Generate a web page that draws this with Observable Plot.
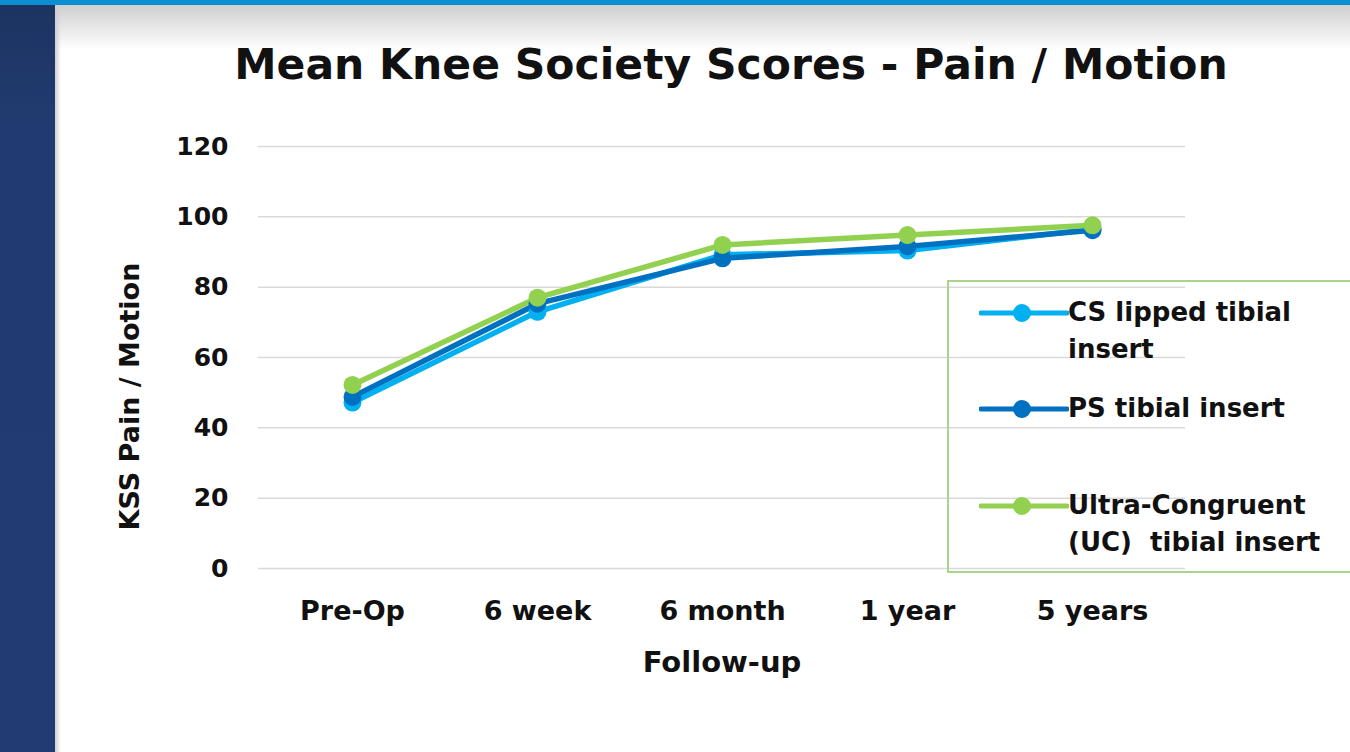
<!DOCTYPE html>
<html>
<head>
<meta charset="utf-8">
<script src="https://cdn.jsdelivr.net/npm/d3@7"></script>
<script src="https://cdn.jsdelivr.net/npm/@observablehq/plot@0.6"></script>
<style>
  html, body { margin: 0; padding: 0; }
  body { width: 1350px; height: 752px; position: relative; overflow: hidden; background: #fff; font-family: "DejaVu Sans", sans-serif; }
  #topbar { position: absolute; left: 0; top: 0; width: 1350px; height: 5px; background: #0a8fd2; }
  #topshade { position: absolute; left: 55px; top: 5px; width: 1295px; height: 45px; background: linear-gradient(#cfcfcf, #ffffff); }
  #leftband { position: absolute; left: 0; top: 5px; width: 55px; height: 747px; background: linear-gradient(#1d3461, #213b70 15%, #223c72); }
  #leftshade { position: absolute; left: 55px; top: 5px; width: 6px; height: 747px; background: linear-gradient(90deg, #cfcfcf, rgba(255,255,255,0)); }
  #title { position: absolute; left: 0; width: 1462px; top: 40px; text-align: center; font-weight: 700; font-size: 42.5px; line-height: 50px; color: #111; white-space: nowrap; }
  #chart { position: absolute; left: 0; top: 0; }
  #legend { position: absolute; left: 947px; top: 280px; width: 420px; height: 293px; border: 2px solid #a9d58a; border-right: none; box-sizing: border-box; }
  .item { position: absolute; left: 30px; }
  .item svg { position: absolute; left: 0; top: 0; }
  .item .lab { position: absolute; left: 89px; top: -19px; font-weight: 700; font-size: 26px; line-height: 37px; color: #111; white-space: nowrap; }
</style>
</head>
<body>
<div id="topbar"></div>
<div id="leftband"></div>
<div id="topshade"></div>
<div id="leftshade"></div>
<div id="chart"></div>
<div id="title">Mean Knee Society Scores - Pain / Motion</div>
<div id="legend"></div>
<script>
const categories = ["Pre-Op", "6 week", "6 month", "1 year", "5 years"];
const seriesNames = ["CS lipped tibial insert", "PS tibial insert", "Ultra-Congruent (UC)  tibial insert"];
const csValues = [47.2, 73.0, 89.2, 90.4, 96.5];
const psValues = [48.8, 75.3, 88.2, 91.6, 96.2];
const ucValues = [52.2, 77.0, 92.0, 94.8, 97.6];
const yTicks = [0, 20, 40, 60, 80, 100, 120];
const colors = ["#00b0f0", "#0070c0", "#92d050"];
const legendLines = [["CS lipped tibial", "insert"], ["PS tibial insert"], ["Ultra-Congruent", "(UC)&nbsp; tibial insert"]];

const allValues = [csValues, psValues, ucValues];
const data = [];
allValues.forEach((vals, s) => vals.forEach((v, i) => data.push({series: seriesNames[s], cat: categories[i], value: v})));

const chart = Plot.plot({
  width: 1350,
  height: 752,
  marginLeft: 258,
  marginRight: 165,
  marginTop: 146,
  marginBottom: 184,
  style: {background: "transparent", fontFamily: "'DejaVu Sans', sans-serif", fontWeight: 700, color: "#111"},
  x: {type: "point", domain: categories, padding: 0.5, label: null},
  y: {domain: [0, 120], label: null},
  color: {domain: seriesNames, range: colors},
  marks: [
    Plot.ruleY(yTicks, {stroke: "#d9d9d9", strokeWidth: 1.5}),
    Plot.axisY({ticks: yTicks, tickSize: 0, tickPadding: 30, fontSize: 25, fontWeight: 700, label: null}),
    Plot.axisX({tickSize: 0, tickPadding: 32, fontSize: 27, fontWeight: 700, label: null}),
    Plot.text(["Follow-up"], {frameAnchor: "bottom", dy: 103, fontSize: 29, fontWeight: 700, fill: "#111"}),
    Plot.text(["KSS Pain / Motion"], {frameAnchor: "left", textAnchor: "middle", dx: -128, dy: 39, rotate: -90, fontSize: 27, fontWeight: 700, fill: "#111"}),
    Plot.line(data, {x: "cat", y: "value", z: "series", stroke: "series", strokeWidth: 5.5}),
    Plot.dot(data, {x: "cat", y: "value", fill: "series", r: 9})
  ]
});
document.getElementById("chart").appendChild(chart);

// legend
const legend = document.getElementById("legend");
const tops = [31, 127, 224];
seriesNames.forEach((name, i) => {
  const item = document.createElement("div");
  item.className = "item";
  item.style.top = tops[i] + "px";
  item.innerHTML = `<svg width="90" height="20" style="top:-10px"><line x1="2" x2="88" y1="10" y2="10" stroke="${colors[i]}" stroke-width="5" stroke-linecap="round"/><circle cx="43" cy="10" r="9" fill="${colors[i]}"/></svg>` +
    `<div class="lab">${legendLines[i].join("<br>")}</div>`;
  legend.appendChild(item);
});
</script>
</body>
</html>
